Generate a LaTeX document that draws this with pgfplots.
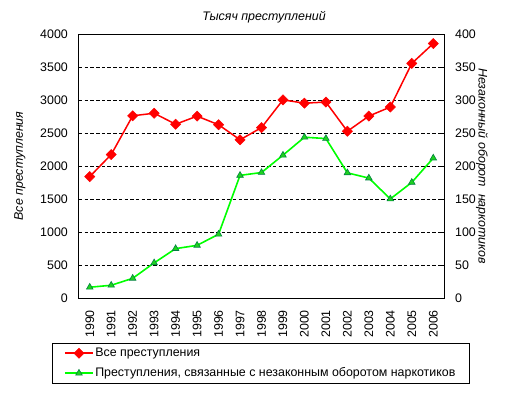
\documentclass[border=0pt]{standalone}
\usepackage{fontspec}
\setmainfont{Liberation Sans}
\usepackage{pgfplots}
\pgfplotsset{compat=1.18}
\definecolor{mred}{RGB}{255,0,0}
\definecolor{mgreen}{RGB}{0,255,0}
\definecolor{trifill}{RGB}{30,210,30}
\definecolor{triedge}{RGB}{0,128,64}
\begin{document}
\begin{tikzpicture}
\pgfplotsset{
  every axis/.append style={font=\fontsize{12.4bp}{14bp}\selectfont},
  /pgf/number format/assume math mode=true,
  /pgf/number format/1000 sep={},
}
\begin{axis}[
  at={(0,0)}, anchor=south west,
  scale only axis, width=365bp, height=264bp,
  xmin=-0.5, xmax=16.5, ymin=0, ymax=4000,
  xtick={0,...,16},
  xticklabels={1990,1991,1992,1993,1994,1995,1996,1997,1998,1999,2000,2001,2002,2003,2004,2005,2006},
  x tick label style={rotate=90, anchor=east, inner sep=0pt},
  xticklabel shift=12bp,
  ytick={0,500,...,4000},
  y tick label style={anchor=east, inner sep=0pt},
  yticklabel shift=11bp,
  major tick length=0pt,
  ymajorgrids,
  major grid style={black, line width=0.8bp, dash pattern=on 3.5bp off 2.2bp},
  axis line style={black, line width=1bp},
  every axis title/.style={at={(axis description cs:0.507,1.062)}, anchor=center, font=\fontsize{12.4bp}{14bp}\selectfont\itshape},
  title={Тысяч преступлений},
  every axis y label/.style={at={(axis description cs:-0.1616,0.5)}, anchor=center, rotate=90, font=\fontsize{12.4bp}{14bp}\selectfont\itshape},
  ylabel={Все преступления},
]
\addplot[mred, line width=1.5bp, mark=square*, mark size=3.6bp, mark options={rotate=45, fill=mred, draw=mred, line width=0.5bp}]
coordinates {
(0,1839.5)(1,2173.1)(2,2760.7)(3,2799.6)(4,2632.7)(5,2755.7)(6,2625.1)(7,2397.3)(8,2581.9)
(9,3001.7)(10,2952.4)(11,2968.3)(12,2526.3)(13,2756.4)(14,2893.8)(15,3554.7)(16,3855.4)
};
\end{axis}
\begin{axis}[
  at={(0,0)}, anchor=south west,
  scale only axis, width=365bp, height=264bp,
  xmin=-0.5, xmax=16.5, ymin=0, ymax=400,
  axis x line=none,
  axis y line*=right,
  ytick={0,50,...,400},
  y tick label style={anchor=west, inner sep=0pt},
  yticklabel shift=11bp,
  tick align=inside,
  major tick length=3bp,
  major tick style={black, line width=0.8bp},
  axis line style={black, line width=1bp, -},
  every axis y label/.style={at={(axis description cs:1.104,0.5)}, anchor=center, rotate=-90, font=\fontsize{12.4bp}{14bp}\selectfont\itshape},
  ylabel={Незаконный оборот\ \ наркотиков},
  legend style={at={(axis description cs:-0.074,-0.1705)}, anchor=north west,
    draw=black, inner xsep=12bp, inner ysep=2.5bp, row sep=5bp,
    font=\fontsize{12.4bp}{14bp}\selectfont,
    nodes={text height=9bp, text depth=3bp, inner sep=1.5bp}},
  legend cell align=left,
  legend image code/.code={\draw[mark repeat=2,mark phase=2] plot coordinates {(0bp,0bp)(14bp,0bp)(28bp,0bp)};},
]
\addlegendimage{mred, line width=1.5bp, mark=square*, mark size=3.6bp, mark options={rotate=45, fill=mred, draw=mred, line width=0.5bp}}
\addlegendentry{Все преступления}
\addplot[mgreen, line width=1.6bp, mark=triangle*, mark size=3.8bp, mark options={fill=trifill, draw=triedge, line width=0.6bp}]
coordinates {
(0,16.3)(1,19.3)(2,29.8)(3,53.2)(4,74.8)(5,79.8)(6,96.6)(7,185.8)(8,190.1)
(9,216.4)(10,243.6)(11,241.6)(12,189.6)(13,181.7)(14,150.1)(15,175.2)(16,212.0)
};
\addlegendentry{Преступления, связанные с незаконным оборотом наркотиков}
\end{axis}
\pgfresetboundingbox
\path[use as bounding box] (-79bp,-95bp) rectangle (430bp,298bp);
\end{tikzpicture}
\end{document}
